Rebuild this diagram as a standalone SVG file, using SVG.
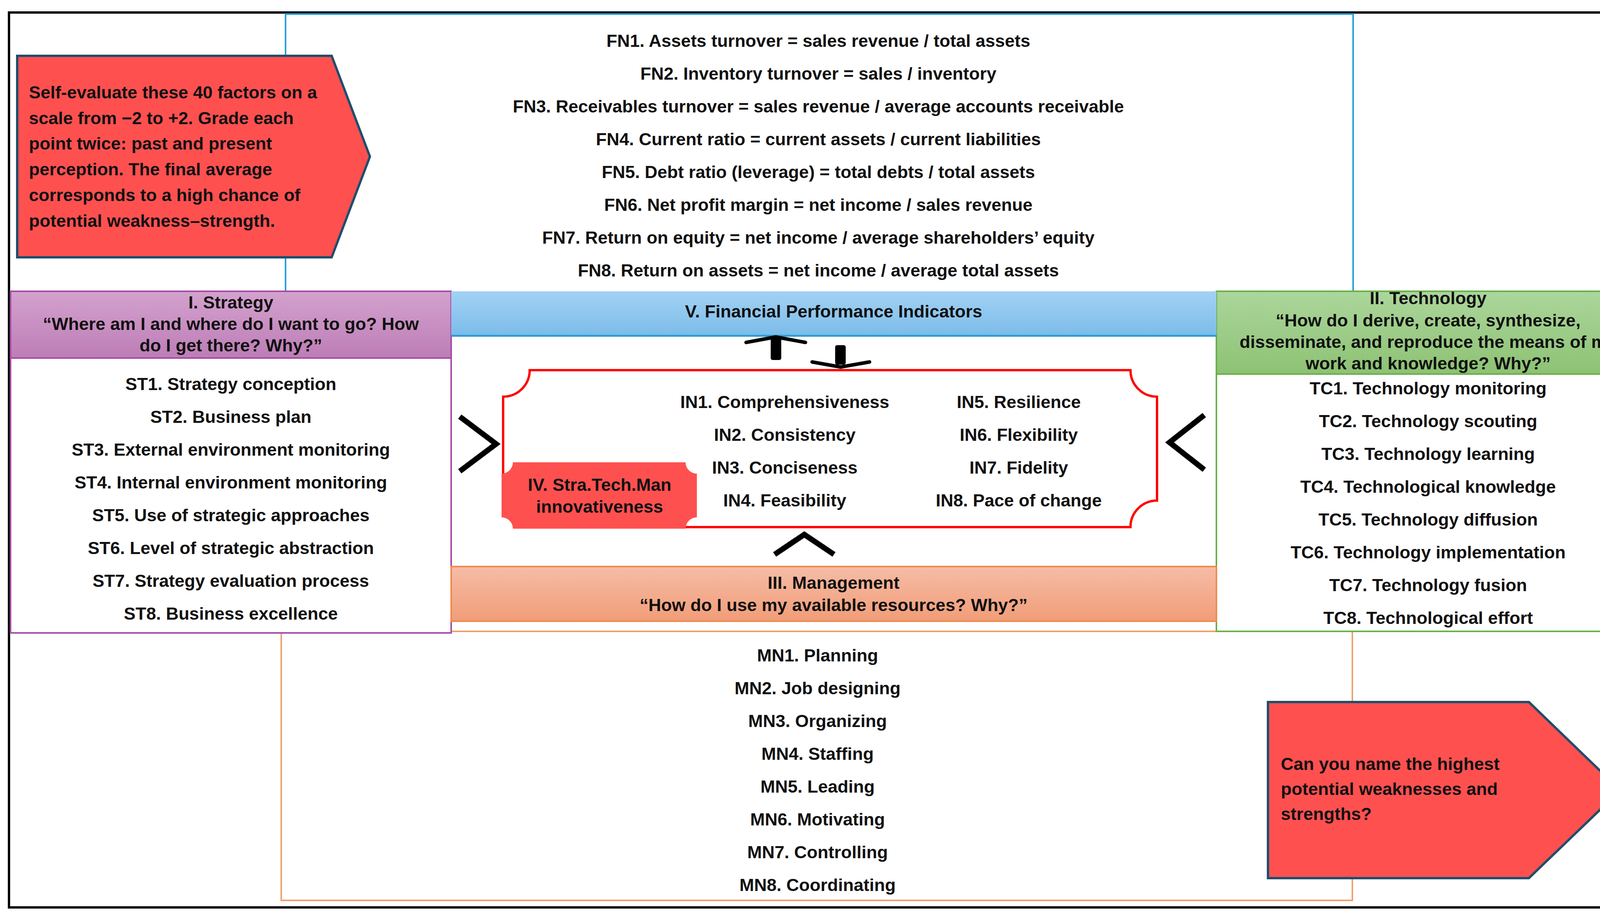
<svg xmlns="http://www.w3.org/2000/svg" width="4227" height="2346" viewBox="0 0 4227 2346">
<defs>
<linearGradient id="gPurple" x1="0" y1="0" x2="0" y2="1"><stop offset="0" stop-color="#D3A2CE"/><stop offset="1" stop-color="#BD7DB6"/></linearGradient>
<linearGradient id="gGreen" x1="0" y1="0" x2="0" y2="1"><stop offset="0" stop-color="#ACD69C"/><stop offset="1" stop-color="#8DC273"/></linearGradient>
<linearGradient id="gBlue" x1="0" y1="0" x2="0" y2="1"><stop offset="0" stop-color="#A3D2F3"/><stop offset="1" stop-color="#7BBCEA"/></linearGradient>
<linearGradient id="gOrange" x1="0" y1="0" x2="0" y2="1"><stop offset="0" stop-color="#F6BCA6"/><stop offset="1" stop-color="#F19D78"/></linearGradient>
<style>
.t{font-family:"Liberation Sans",Arial,sans-serif;font-weight:700;font-size:45px;fill:#111;text-anchor:middle}
.l{font-family:"Liberation Sans",Arial,sans-serif;font-weight:700;font-size:45px;fill:#111;text-anchor:start}
.chev{fill:none;stroke:#000;stroke-width:14;stroke-linejoin:miter;stroke-linecap:butt}
.head{fill:none;stroke:#000;stroke-width:9;stroke-linejoin:round;stroke-linecap:round}
.penta{fill:#FF5050;stroke:#1F4E6B;stroke-width:6}
</style>
</defs>
<rect x="0" y="0" width="4227" height="2346" fill="#FFFFFF"/>
<rect id="frame" x="23" y="32" width="4180" height="2292" fill="none" stroke="#000" stroke-width="6"/>

<g id="fn-box">
<rect x="731" y="36" width="2733" height="712" fill="#FFFFFF" stroke="#22A0D8" stroke-width="4"/>
<text class="t" x="2095" y="120">FN1. Assets turnover = sales revenue / total assets</text>
<text class="t" x="2095" y="204">FN2. Inventory turnover = sales / inventory</text>
<text class="t" x="2095" y="288">FN3. Receivables turnover = sales revenue / average accounts receivable</text>
<text class="t" x="2095" y="372">FN4. Current ratio = current assets / current liabilities</text>
<text class="t" x="2095" y="456">FN5. Debt ratio (leverage) = total debts / total assets</text>
<text class="t" x="2095" y="540">FN6. Net profit margin = net income / sales revenue</text>
<text class="t" x="2095" y="624">FN7. Return on equity = net income / average shareholders’ equity</text>
<text class="t" x="2095" y="708">FN8. Return on assets =  net income / average total assets</text>
</g>

<g id="mn-box">
<rect x="720" y="1617" width="2742" height="689" fill="#FFFFFF" stroke="#F0A070" stroke-width="4"/>
<text class="t" x="2093" y="1694">MN1. Planning</text>
<text class="t" x="2093" y="1778">MN2. Job designing</text>
<text class="t" x="2093" y="1862">MN3. Organizing</text>
<text class="t" x="2093" y="1946">MN4. Staffing</text>
<text class="t" x="2093" y="2030">MN5. Leading</text>
<text class="t" x="2093" y="2114">MN6. Motivating</text>
<text class="t" x="2093" y="2198">MN7. Controlling</text>
<text class="t" x="2093" y="2282">MN8. Coordinating</text>
</g>

<g id="note-self-evaluate">
<polygon class="penta" points="44,143 849,143 947,401 849,659 44,659"/>
<text class="l" x="74" y="252">Self-evaluate these 40 factors on a</text>
<text class="l" x="74" y="318">scale from −2 to +2. Grade each</text>
<text class="l" x="74" y="383">point twice: past and present</text>
<text class="l" x="74" y="449">perception. The final average</text>
<text class="l" x="74" y="515">corresponds to a high chance of</text>
<text class="l" x="74" y="581">potential weakness–strength.</text>
</g>

<g id="note-question">
<polygon class="penta" points="3246,1798 3914,1798 4148,2024 3914,2249 3246,2249"/>
<text class="l" x="3279" y="1972">Can you name the highest</text>
<text class="l" x="3279" y="2036">potential weaknesses and</text>
<text class="l" x="3279" y="2100">strengths?</text>
</g>

<g id="strategy">
<rect x="27" y="917" width="1128" height="704" fill="#FFFFFF" stroke="#A64CA6" stroke-width="4"/>
<rect x="27" y="746" width="1128" height="171" fill="url(#gPurple)" stroke="#A64CA6" stroke-width="4"/>
<text class="t" x="591" y="790">I. Strategy</text>
<text class="t" x="591" y="845">“Where am I and where do I want to go? How</text>
<text class="t" x="591" y="900">do I get there? Why?”</text>
<text class="t" x="591" y="999">ST1. Strategy conception</text>
<text class="t" x="591" y="1083">ST2. Business plan</text>
<text class="t" x="591" y="1167">ST3. External environment monitoring</text>
<text class="t" x="591" y="1251">ST4. Internal environment monitoring</text>
<text class="t" x="591" y="1335">ST5. Use of strategic approaches</text>
<text class="t" x="591" y="1419">ST6. Level of strategic abstraction</text>
<text class="t" x="591" y="1503">ST7. Strategy evaluation process</text>
<text class="t" x="591" y="1587">ST8. Business excellence</text>
</g>

<g id="technology">
<rect x="3114" y="958" width="1085" height="659" fill="#FFFFFF" stroke="#6AB04C" stroke-width="4"/>
<rect x="3114" y="746" width="1085" height="212" fill="url(#gGreen)" stroke="#6AB04C" stroke-width="4"/>
<text class="t" x="3656" y="779">II. Technology</text>
<text class="t" x="3656" y="836">“How do I derive, create, synthesize,</text>
<text class="t" x="3656" y="891">disseminate, and reproduce the means of my</text>
<text class="t" x="3656" y="946">work and knowledge? Why?”</text>
<text class="t" x="3656" y="1010">TC1. Technology monitoring</text>
<text class="t" x="3656" y="1094">TC2. Technology scouting</text>
<text class="t" x="3656" y="1178">TC3. Technology learning</text>
<text class="t" x="3656" y="1262">TC4. Technological knowledge</text>
<text class="t" x="3656" y="1346">TC5. Technology diffusion</text>
<text class="t" x="3656" y="1430">TC6. Technology implementation</text>
<text class="t" x="3656" y="1514">TC7. Technology fusion</text>
<text class="t" x="3656" y="1598">TC8. Technological effort</text>
</g>

<g id="financial-header">
<rect x="1155" y="746" width="1959" height="114" fill="url(#gBlue)"/>
<line x1="1155" y1="860" x2="3114" y2="860" stroke="#2E9BD6" stroke-width="5"/>
<text class="t" x="2134" y="813">V. Financial Performance Indicators</text>
</g>

<g id="management-header">
<rect x="1155" y="1451" width="1959" height="140" fill="url(#gOrange)" stroke="#EE8A50" stroke-width="4"/>
<text class="t" x="2134" y="1508">III. Management</text>
<text class="t" x="2134" y="1565">“How do I use my available resources? Why?”</text>
</g>

<g id="innovativeness">
<path d="M1356,948 L2894,948 A68,68 0 0 0 2962,1016 L2962,1282 A68,68 0 0 0 2894,1350 L1356,1350 A68,68 0 0 0 1288,1282 L1288,1016 A68,68 0 0 0 1356,948 Z" fill="#FFFFFF" stroke="#FF0000" stroke-width="6"/>
<text class="t" x="2009" y="1045">IN1. Comprehensiveness</text>
<text class="t" x="2009" y="1129">IN2. Consistency</text>
<text class="t" x="2009" y="1213">IN3. Conciseness</text>
<text class="t" x="2009" y="1297">IN4. Feasibility</text>
<text class="t" x="2608" y="1045">IN5. Resilience</text>
<text class="t" x="2608" y="1129">IN6. Flexibility</text>
<text class="t" x="2608" y="1213">IN7. Fidelity</text>
<text class="t" x="2608" y="1297">IN8. Pace of change</text>
</g>

<g id="stratechman">
<path d="M1313,1184 L1755,1184 A29,29 0 0 0 1784,1213 L1784,1325 A29,29 0 0 0 1755,1354 L1313,1354 A29,29 0 0 0 1284,1325 L1284,1213 A29,29 0 0 0 1313,1184 Z" fill="#FF5050"/>
<text class="t" x="1535" y="1257">IV. Stra.Tech.Man</text>
<text class="t" x="1535" y="1313">innovativeness</text>
</g>

<g id="connectors">
<polyline class="chev" points="1177,1067 1270,1137 1177,1207"/>
<polyline class="chev" points="3083,1063 2994,1133 3083,1203"/>
<polyline class="chev" points="1983,1420 2059,1369 2135,1420"/>
<rect x="1973" y="866" width="27" height="56" rx="5" fill="#000"/>
<polyline class="head" points="1910,877 1986,863 2062,877"/>
<rect x="2138" y="884" width="27" height="50" rx="5" fill="#000"/>
<polyline class="head" points="2079,927 2152,940 2226,927"/>
</g>
</svg>
